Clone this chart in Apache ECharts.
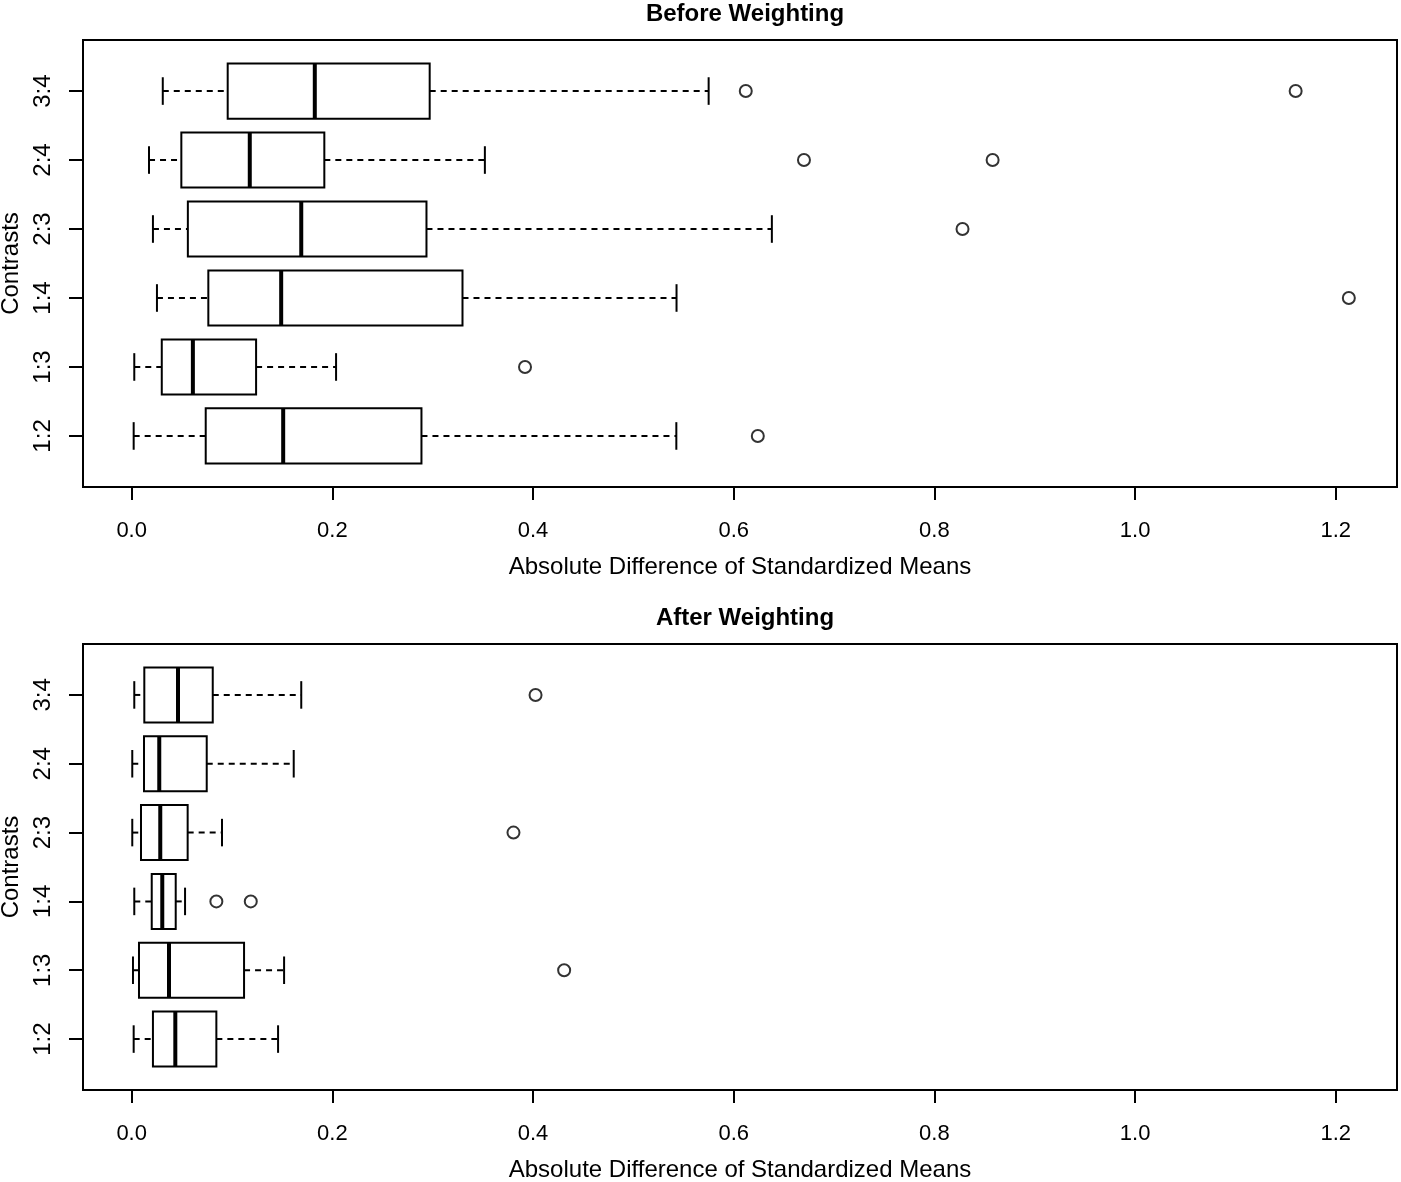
<!DOCTYPE html>
<html>
<head>
<meta charset="utf-8">
<script src="https://cdn.jsdelivr.net/npm/echarts@6/dist/echarts.min.js"></script>
<style>
html,body{margin:0;padding:0;background:#fff;}
#chart{width:1401px;height:1182px;}
</style>
</head>
<body>
<div id="chart"></div>
<script>
// Categories (bottom to top)
const categories = ['1:2', '1:3', '1:4', '2:3', '2:4', '3:4'];
// Tick labels on the x axis
const xTicks = [0, 0.2, 0.4, 0.6, 0.8, 1.0, 1.2];

// Box statistics per category: [lower whisker, Q1, median, Q3, upper whisker]
const beforeStats = [
  [0.002, 0.0738, 0.151, 0.2888, 0.5428],
  [0.0026, 0.030, 0.061, 0.124, 0.2037],
  [0.0252, 0.0764, 0.149, 0.3297, 0.543],
  [0.0212, 0.056, 0.169, 0.2938, 0.638],
  [0.0173, 0.0495, 0.1177, 0.192, 0.352],
  [0.031, 0.0957, 0.1825, 0.297, 0.575]
];
// Outliers: [category index (1-based), value]
const beforeOutliers = [
  [1, 0.624], [2, 0.392], [3, 1.213], [4, 0.828],
  [5, 0.670], [5, 0.858], [6, 0.612], [6, 1.160]
];

const afterStats = [
  [0.002, 0.0212, 0.0435, 0.0844, 0.1459],
  [0.0013, 0.0073, 0.0372, 0.112, 0.1519],
  [0.0026, 0.020, 0.0305, 0.0439, 0.0532],
  [0.0006, 0.0093, 0.0285, 0.0558, 0.090],
  [0.0006, 0.0123, 0.0275, 0.0748, 0.1615],
  [0.0026, 0.0126, 0.0462, 0.0808, 0.169]
];
const afterOutliers = [
  [2, 0.431], [3, 0.0844], [3, 0.1187], [4, 0.3805], [6, 0.4025]
];

const titles = ['Before Weighting', 'After Weighting'];
const xName = 'Absolute Difference of Standardized Means';
const yName = 'Contrasts';

const FONT = '"Liberation Sans", Arial, Helvetica, sans-serif';

function boxData(stats) {
  return stats.map((s, i) => [i + 1].concat(s));
}
function outlierData(out) {
  return out.map(o => [o[1], o[0]]);
}

function renderBox(params, api) {
  const y = api.value(0);
  const pLo = api.coord([api.value(1), y]);
  const pQ1 = api.coord([api.value(2), y]);
  const pMed = api.coord([api.value(3), y]);
  const pQ3 = api.coord([api.value(4), y]);
  const pHi = api.coord([api.value(5), y]);
  const h = api.size([0, 0.8])[1];
  const cap = api.size([0, 0.4])[1];
  const cy = pMed[1];
  const dashStyle = {stroke: '#000', lineWidth: 2, lineDash: [6, 5], fill: null};
  const solid = {stroke: '#000', lineWidth: 2, fill: null};
  return {
    type: 'group',
    children: [
      {type: 'line', shape: {x1: pLo[0], y1: cy, x2: pQ1[0], y2: cy}, style: dashStyle},
      {type: 'line', shape: {x1: pQ3[0], y1: cy, x2: pHi[0], y2: cy}, style: dashStyle},
      {type: 'line', shape: {x1: pLo[0], y1: cy - cap / 2, x2: pLo[0], y2: cy + cap / 2}, style: solid},
      {type: 'line', shape: {x1: pHi[0], y1: cy - cap / 2, x2: pHi[0], y2: cy + cap / 2}, style: solid},
      {type: 'rect', shape: {x: pQ1[0], y: cy - h / 2, width: pQ3[0] - pQ1[0], height: h},
        style: {stroke: '#000', lineWidth: 2, fill: '#fff'}},
      {type: 'line', shape: {x1: pMed[0], y1: cy - h / 2, x2: pMed[0], y2: cy + h / 2},
        style: {stroke: '#000', lineWidth: 4, fill: null}}
    ]
  };
}

const grids = [
  {left: 83, right: 4, top: 40, height: 447},
  {left: 83, right: 4, top: 644, height: 446}
];

function makeX(i) {
  return {
    type: 'value', gridIndex: i, min: -0.0485, max: 1.261, position: 'bottom',
    name: xName, nameLocation: 'middle', nameGap: 68,
    nameTextStyle: {fontFamily: FONT, fontSize: 24, color: '#000'},
    axisLine: {show: false, onZero: false},
    axisTick: {show: true, inside: false, length: 13, customValues: xTicks, lineStyle: {color: '#000', width: 2}},
    axisLabel: {show: true, customValues: xTicks, margin: 33, fontFamily: FONT, fontSize: 22, color: '#000',
      formatter: v => v.toFixed(1)},
    splitLine: {show: false}
  };
}
function makeY(i) {
  return {
    type: 'value', gridIndex: i, min: 0.26, max: 6.74, position: 'left',
    name: yName, nameLocation: 'middle', nameGap: 58, nameRotate: 90,
    nameTextStyle: {fontFamily: FONT, fontSize: 24, color: '#000'},
    axisLine: {show: false, onZero: false},
    axisTick: {show: true, inside: false, length: 14, customValues: [1, 2, 3, 4, 5, 6], lineStyle: {color: '#000', width: 2}},
    axisLabel: {show: true, customValues: [1, 2, 3, 4, 5, 6], rotate: 90, margin: 28, fontFamily: FONT, fontSize: 24, color: '#000',
      formatter: v => categories[Math.round(v) - 1] || ''},
    splitLine: {show: false}
  };
}

const chart = echarts.init(document.getElementById('chart'), null, {renderer: 'canvas'});
chart.setOption({
  backgroundColor: '#fff',
  animation: false,
  title: [
    {text: titles[0], left: 740, textAlign: 'center', top: -3, textStyle: {fontFamily: FONT, fontSize: 24, fontWeight: 'bold', color: '#000'}},
    {text: titles[1], left: 740, textAlign: 'center', top: 601, textStyle: {fontFamily: FONT, fontSize: 24, fontWeight: 'bold', color: '#000'}}
  ],
  grid: grids.map(g => Object.assign({show: true, borderColor: '#000', borderWidth: 2, backgroundColor: 'transparent', containLabel: false, outerBoundsMode: 'none'}, g)),
  xAxis: [makeX(0), makeX(1)],
  yAxis: [makeY(0), makeY(1)],
  series: [
    {type: 'custom', xAxisIndex: 0, yAxisIndex: 0, renderItem: renderBox, data: boxData(beforeStats),
      encode: {x: [1, 2, 3, 4, 5], y: 0}, clip: false},
    {type: 'scatter', xAxisIndex: 0, yAxisIndex: 0, data: outlierData(beforeOutliers), symbol: 'circle', symbolSize: 12,
      itemStyle: {color: '#fff', borderColor: '#000', borderWidth: 2}},
    {type: 'custom', xAxisIndex: 1, yAxisIndex: 1, renderItem: renderBox, data: boxData(afterStats),
      encode: {x: [1, 2, 3, 4, 5], y: 0}, clip: false},
    {type: 'scatter', xAxisIndex: 1, yAxisIndex: 1, data: outlierData(afterOutliers), symbol: 'circle', symbolSize: 12,
      itemStyle: {color: '#fff', borderColor: '#000', borderWidth: 2}}
  ]
});
</script>
</body>
</html>
